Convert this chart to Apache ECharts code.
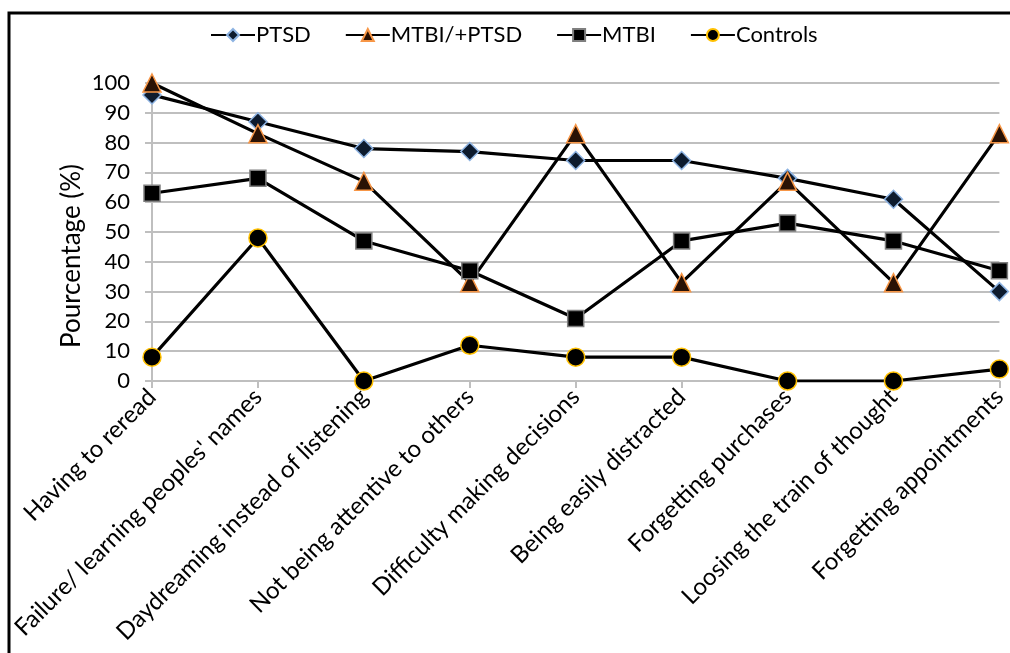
<!DOCTYPE html>
<html>
<head>
<meta charset="utf-8">
<script src="https://cdn.jsdelivr.net/npm/echarts@6/dist/echarts.min.js"></script>
<style>
html,body{margin:0;padding:0;background:#fff;}
#chart{width:1010px;height:653px;}
</style>
</head>
<body>
<div id="chart"></div>
<script>
const categories = [
  "Having to reread",
  "Failure/ learning peoples' names",
  "Daydreaming instead of listening",
  "Not being attentive to others",
  "Difficulty making decisions",
  "Being easily distracted",
  "Forgetting purchases",
  "Loosing the train of thought",
  "Forgetting appointments"
];
const ptsd = [96, 87, 78, 77, 74, 74, 68, 61, 30];
const mtbiPtsd = [100, 83, 67, 33, 83, 33, 67, 33, 83];
const mtbi = [63, 68, 47, 37, 21, 47, 53, 47, 37];
const controls = [8, 48, 0, 12, 8, 8, 0, 0, 4];
const yTicks = [0, 10, 20, 30, 40, 50, 60, 70, 80, 90, 100];
const yTitle = 'Pourcentage (%)';

const FONT = "Lato, 'Open Sans', sans-serif";
const chart = echarts.init(document.getElementById('chart'));

function mk(name, data, symbol, size, fill, border) {
  return {
    name: name,
    type: 'line',
    data: data,
    symbol: symbol,
    symbolSize: size,
    showAllSymbol: true,
    lineStyle: { color: '#000', width: 3.2 },
    itemStyle: { color: fill, borderColor: border, borderWidth: 1.5 },
    emphasis: { disabled: true },
    animation: false
  };
}

chart.setOption({
  animation: false,
  graphic: [{
    type: 'rect',
    shape: { x: 9, y: 13, width: 1010, height: 660 },
    style: { fill: 'none', stroke: '#000', lineWidth: 3 },
    silent: true
  }, {
    type: 'text',
    x: 72, y: 256,
    rotation: Math.PI / 2,
    style: { text: yTitle, fontFamily: FONT, fontSize: 26, fill: '#000', align: 'center', verticalAlign: 'middle' },
    silent: true
  }],
  legend: {
    top: 19,
    left: 205,
    itemWidth: 44,
    itemHeight: 15,
    itemGap: 34,
    textStyle: { fontFamily: FONT, fontSize: 22, color: '#000', padding: [0,0,0,-4] },
    data: ['PTSD', 'MTBI/+PTSD', 'MTBI', 'Controls']
  },
  grid: { left: 152, right: 10, top: 83, bottom: 272, containLabel: false },
  xAxis: {
    type: 'category',
    data: categories,
    boundaryGap: false,
    axisLine: { lineStyle: { color: '#bfbfbf', width: 2 } },
    axisTick: { show: true, length: 7, inside: false, lineStyle: { color: '#bfbfbf', width: 2 }, alignWithLabel: true },
    axisLabel: { rotate: 45, interval: 0, margin: 12, fontFamily: FONT, fontSize: 24, color: '#000' },
    splitLine: { show: false }
  },
  yAxis: {
    type: 'value',
    min: 0, max: 100, interval: 10,
    axisLine: { show: true, lineStyle: { color: '#bfbfbf', width: 2 } },
    axisTick: { show: true, length: 7, lineStyle: { color: '#bfbfbf', width: 2 } },
    axisLabel: { fontFamily: FONT, fontSize: 22, color: '#000', margin: 22,
      formatter: function (v) { return yTicks.indexOf(v) >= 0 ? String(v) : ''; } },
    splitLine: { show: true, lineStyle: { color: '#bfbfbf', width: 2 } }
  },
  series: [
    mk('PTSD', ptsd, 'diamond', 18, '#0d1b2e', '#8db3e2'),
    mk('MTBI/+PTSD', mtbiPtsd, 'triangle', 18, '#2a1205', '#f79646'),
    mk('MTBI', mtbi, 'rect', 16, '#000000', '#7f7f7f'),
    mk('Controls', controls, 'circle', 18, '#000000', '#ffc000')
  ]
});
</script>
</body>
</html>
